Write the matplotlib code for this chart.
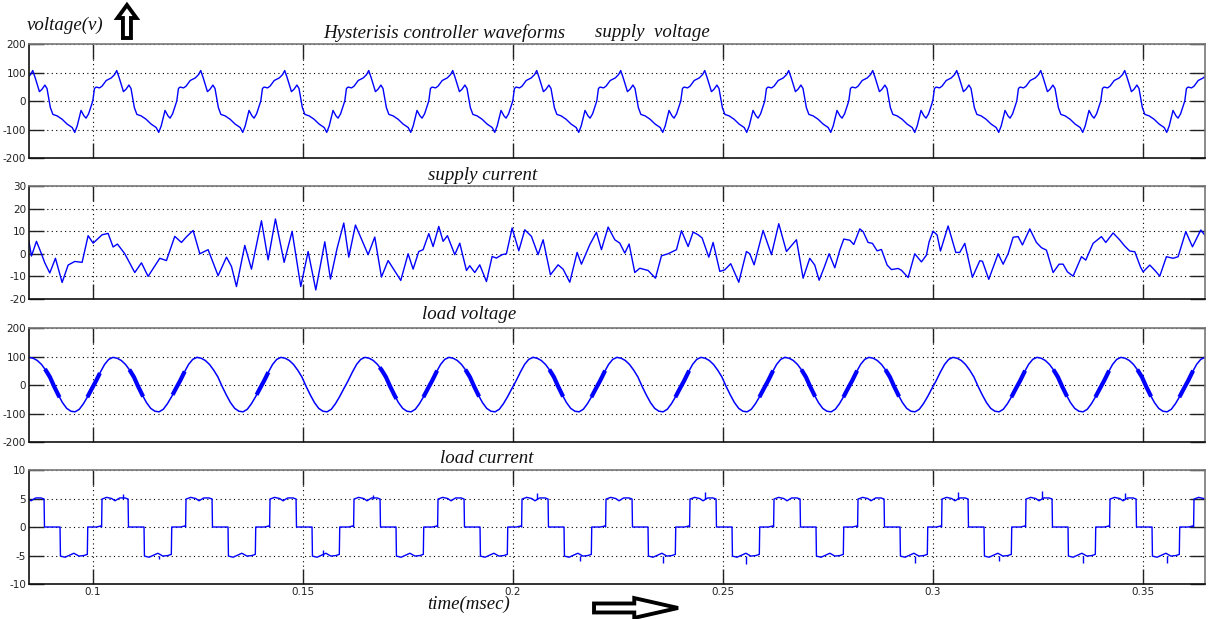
import numpy as np
import matplotlib.pyplot as plt
from matplotlib.patches import FancyArrow

# === Time axis ===
T_START = 0.0848
T_END = 0.3648
PERIOD = 0.02
XTICKS = [0.1, 0.15, 0.2, 0.25, 0.3, 0.35]
XTICK_LABELS = ["0.1", "0.15", "0.2", "0.25", "0.3", "0.35"]

# === Supply voltage: one cycle (ms after rising zero crossing) ===
sv_cycle_start = 0.08
sv_phase_ms = [0, 0.4, 0.8, 1.6, 2.2, 3.2, 4.4, 5.2, 5.7, 6.3, 7.3, 7.9, 8.6, 9.1,
               9.9, 10.5, 11.5, 12.7, 13.9, 15.1, 15.7, 16.3, 17.2, 17.9, 18.4, 19.0, 20]
sv_values = [0, 44, 49, 46, 52, 72, 81, 93, 107, 81, 33, 41, 56, 44,
             -23, -47, -52, -64, -81, -93, -110, -87, -33, -52, -60, -45, 0]

# === Supply current: turning points ===
sc_time = [0.08476, 0.08540, 0.08659, 0.08778, 0.08857, 0.08976, 0.09111, 0.09270, 0.09413,
           0.09571, 0.09746, 0.09889, 0.10008, 0.10222, 0.10365, 0.10484, 0.10587, 0.10762,
           0.11000, 0.11159, 0.11317, 0.11595, 0.11754, 0.11952, 0.12111, 0.12230, 0.12389,
           0.12548, 0.12746, 0.12984, 0.13183, 0.13302, 0.13421, 0.13619, 0.13778, 0.14016,
           0.14175, 0.14349, 0.14556, 0.14746, 0.14952, 0.15127, 0.15310, 0.15524, 0.15659,
           0.15817, 0.15976, 0.16095, 0.16254, 0.16556, 0.16714, 0.16873, 0.17032, 0.17333,
           0.17508, 0.17627,
           0.17762, 0.17865, 0.18000, 0.18103, 0.18238, 0.18341, 0.18444, 0.18619, 0.18738,
           0.18897, 0.18976, 0.19095, 0.19214, 0.19373, 0.19508, 0.19611, 0.19746, 0.19849,
           0.19984, 0.20143, 0.20286, 0.20444, 0.20603, 0.20722, 0.20897, 0.21079, 0.21198,
           0.21357, 0.21532, 0.21635, 0.21833, 0.21992, 0.22111, 0.22270, 0.22429, 0.22548,
           0.22667, 0.22770, 0.22905, 0.23024, 0.23222, 0.23397, 0.23540, 0.23698, 0.23897,
           0.24016, 0.24175, 0.24294, 0.24413, 0.24508, 0.24667, 0.24770, 0.24929, 0.25048,
           0.25190, 0.25381, 0.25563, 0.25643, 0.25746, 0.25960, 0.26159, 0.26333, 0.26516,
           0.26754, 0.26913, 0.27071,
           0.27190, 0.27294, 0.27405, 0.27532, 0.27667, 0.27786, 0.27881, 0.28024, 0.28119,
           0.28262, 0.28341, 0.28460, 0.28563, 0.28675, 0.28778, 0.28913, 0.29016, 0.29175,
           0.29254, 0.29413, 0.29571, 0.29730, 0.29849, 0.29913, 0.30008, 0.30103, 0.30183,
           0.30365, 0.30548, 0.30643, 0.30762, 0.30944, 0.31119, 0.31183, 0.31333, 0.31556,
           0.31675, 0.31794, 0.31913, 0.32032, 0.32135, 0.32310, 0.32468, 0.32587, 0.32706,
           0.32865, 0.33008, 0.33103, 0.33206, 0.33341, 0.33540, 0.33643, 0.33817, 0.34016,
           0.34119, 0.34294, 0.34452, 0.34571, 0.34690, 0.34810, 0.34944, 0.35008, 0.35167,
           0.35286, 0.35405, 0.35563, 0.35722, 0.35841, 0.36024, 0.36183, 0.36381, 0.36476]
sc_values = [6, -1, 5.5, 0, -4, -8.5, -2, -12.7, -5,
             -3.4, -3.8, 8, 4.7, 8.4, 9, 3, 4.3, 0,
             -8.3, -4, -10, -2, -3, 7.7, 5, 7.5, 10.3,
             0, 1.8, -9.7, -1.5, -5.6, -14.5, 3.7, -6.8, 14.6,
             -2.7, 15.4, -3.8, 9.9, -14.5, 1, -16, 5.3, -11.2,
             2.4, 13.6, -1.5, 12.7, -0.4, 7.4, -10.3, -3, -11.8,
             0, -6.8,
             1, 1.8, 8.9, 3.2, 12.1, 5.5, 8, -0.4, 4.7,
             -7.4, -5.3, -8.3, -4.9, -12.3, -1.2, -1.9, -0.4, 0,
             11.4, 1.3, 10.6, 7.7, -0.4, 6.2, -9.3, -4.9, -6.8,
             -12.6, 0.6, -4.6, 4, 9.5, 1.8, 11.8, 6.2, 4.7,
             0.3, 4.3, -8.3, -6.4, -7.4, -10.8, -0.9, 0, 1.8,
             10.2, 3.2, 9.6, 8.4, 7, -1.5, 5, -7.8, -7.1,
             -4.4, -12.6, 1, 0, -4.9, 10.3, -0.4, 13.3, 1,
             6.2, -10.8, -2,
             -5, -11.7, -6.5, 0, -6.2, 1.6, 6.5, 6, 4.1,
             11, 9.8, 5, 4.6, 1.3, 1.9, -5, -7, -6.5,
             -7.3, -10.5, 0, -3.6, -0.6, 5.3, 10, 8.3, 1.2,
             12.3, 0.6, 0.6, 4.6, -10.4, -3.1, -3.3, -11.3, 0,
             -4.6, 0, 7.3, 7.6, 3.9, 11, 5, 2.7, 1.6,
             -8.3, -4.6, -4.6, -8, -9.9, -1.3, -2.8, 4.6, 7.6,
             5, 9.2, 6.1, 3.4, 1.2, 0.9, -5.8, -8, -5,
             -7.3, -9.9, -1.3, -2, -1.3, 9.8, 3.1, 10.5, 8.3]

# === Load voltage: one cycle (ms after positive peak) ===
lv_cycle_start = 0.0848
lv_phase_ms = [0, 1, 2, 3, 4, 5, 6, 7, 8, 9, 10, 11, 12, 13, 14, 15, 16, 17, 18, 19, 20]
lv_values = [97, 94, 86, 72, 52, 28, -5, -35, -62, -82, -92, -94, -85, -65, -40, -12,
             15, 45, 72, 90, 97]
# stretches where the switching ripple makes the trace look thick (start, end)
lv_thick_start = [0.0886, 0.0987, 0.1087, 0.1190, 0.1390, 0.1683, 0.1787, 0.1887,
                  0.2087, 0.2187, 0.2387, 0.2587, 0.2687, 0.2787, 0.2887, 0.3187,
                  0.3287, 0.3387, 0.3487, 0.3587]
lv_thick_end = [0.0921, 0.1017, 0.1120, 0.1219, 0.1418, 0.1723, 0.1820, 0.1920,
                0.2120, 0.2220, 0.2420, 0.2620, 0.2720, 0.2820, 0.2920, 0.3220,
                0.3320, 0.3420, 0.3520, 0.3620]

# === Load current: one cycle (ms after positive step) ===
li_cycle_start = 0.0821
li_phase_ms = [0, 0.1, 1.2, 2.4, 3.2, 4.3, 5.6, 6.30, 6.40, 10.1, 10.2, 11.3, 12.5, 13.4,
               14.6, 15.8, 16.6, 16.7, 18.8, 19.9, 20]
li_values = [0, 4.9, 5.2, 5.0, 4.6, 5.1, 5.1, 4.9, 0, 0, -5.1, -5.3, -4.9, -4.6,
             -5.1, -5.0, -4.8, 0, 0, 0.2, 0]
# short spikes on the plateaus (time, tip value, base value)
li_spike_time = [0.1072, 0.1157, 0.1548, 0.1667, 0.2058, 0.2160, 0.2358, 0.2457, 0.2556,
                 0.2957, 0.3060, 0.3158, 0.3261, 0.3358, 0.3457, 0.3558]
li_spike_tip = [5.8, -5.6, -4.0, 5.7, 6.0, -6.0, -6.3, 6.2, -6.5,
                -6.3, 6.2, -6.0, 6.4, -6.3, 6.0, -6.3]
li_spike_base = [5.0, -5.0, -5.0, 5.0, 5.0, -5.0, -5.0, 5.0, -5.0,
                 -5.0, 5.0, -5.0, 5.0, -5.0, 5.0, -5.0]

LINE_COLOR = "#0000ff"


def tile_cycle(phase_ms, values, start):
    phase = np.array(phase_ms) / 1000.0
    k0 = int(np.floor((T_START - start) / PERIOD)) - 1
    k1 = int(np.ceil((T_END - start) / PERIOD)) + 1
    ts = [start + k * PERIOD + phase for k in range(k0, k1)]
    vs = [np.array(values, dtype=float) for _ in range(k0, k1)]
    return np.concatenate(ts), np.concatenate(vs)


def style_axes(ax, ylim, yticks, show_x):
    ax.set_xlim(T_START, T_END)
    ax.set_ylim(*ylim)
    ax.set_yticks(yticks)
    ax.set_yticklabels([str(v) for v in yticks])
    ax.set_xticks(XTICKS)
    if show_x:
        ax.set_xticklabels(XTICK_LABELS)
    else:
        ax.set_xticklabels([])
    ax.grid(True, color="black", linestyle=(0, (1, 3)), linewidth=0.8)
    ax.tick_params(direction="in", length=11, width=1, top=True, right=True,
                   labelsize=7.5, pad=2, colors="#222222")
    for side in ["left", "bottom"]:
        ax.spines[side].set_color("#111111")
    for side in ["top", "right"]:
        ax.spines[side].set_color("#777777")
    for sp in ax.spines.values():
        sp.set_linewidth(1.2)


fig = plt.figure(figsize=(12.16, 6.19), dpi=100)
left, width = 0.0238, 0.9671
ax1 = fig.add_axes([left, 0.7447, width, 0.1842])
ax2 = fig.add_axes([left, 0.5170, width, 0.1826])
ax3 = fig.add_axes([left, 0.2859, width, 0.1842])
ax4 = fig.add_axes([left, 0.0565, width, 0.1842])

# supply voltage
t, v = tile_cycle(sv_phase_ms, sv_values, sv_cycle_start)
ax1.plot(t, v, color=LINE_COLOR, lw=1.0)
style_axes(ax1, (-200, 200), [-200, -100, 0, 100, 200], False)

# supply current
ax2.plot(sc_time, sc_values, color=LINE_COLOR, lw=1.0)
style_axes(ax2, (-20, 30), [-20, -10, 0, 10, 20, 30], False)

# load voltage
t, v = tile_cycle(lv_phase_ms, lv_values, lv_cycle_start)
ax3.plot(t, v, color=LINE_COLOR, lw=1.1)
for a, b in zip(lv_thick_start, lv_thick_end):
    m = (t >= a) & (t <= b)
    seg_t = np.concatenate([[a], t[m], [b]])
    seg_v = np.interp(seg_t, t, v)
    ax3.plot(seg_t, seg_v, color=LINE_COLOR, lw=3.0, solid_capstyle="butt")
style_axes(ax3, (-200, 200), [-200, -100, 0, 100, 200], False)

# load current
t, v = tile_cycle(li_phase_ms, li_values, li_cycle_start)
ax4.plot(t, v, color=LINE_COLOR, lw=1.0)
ax4.vlines(li_spike_time, li_spike_base, li_spike_tip, color=LINE_COLOR, lw=1.0)
style_axes(ax4, (-10, 10), [-10, -5, 0, 5, 10], True)

# === Annotations ===
serif = dict(family="Liberation Serif", style="italic", fontsize=13.6, color="#111111")
fig.text(0.022, 0.9596, "voltage(v)", va="center", ha="left", **serif)
fig.text(0.266, 0.9467, "Hysterisis controller waveforms", va="center", ha="left", **serif)
fig.text(0.489, 0.9467, "supply  voltage", va="center", ha="left", **serif)
fig.text(0.352, 0.7157, "supply current", va="center", ha="left", **serif)
fig.text(0.347, 0.4927, "load voltage", va="center", ha="left", **serif)
fig.text(0.362, 0.2585, "load current", va="center", ha="left", **serif)
fig.text(0.351, 0.0242, "time(msec)", va="center", ha="left", **serif)

fig.patches.append(FancyArrow(0.1044, 0.9386, 0, 0.0533, width=0.0066,
                              head_width=0.0156, head_length=0.021,
                              length_includes_head=True, transform=fig.transFigure,
                              facecolor="white", edgecolor="black", linewidth=2.8))
fig.patches.append(FancyArrow(0.4885, 0.0178, 0.0691, 0, width=0.0145,
                              head_width=0.032, head_length=0.036,
                              length_includes_head=True, transform=fig.transFigure,
                              facecolor="white", edgecolor="black", linewidth=2.8))

fig.savefig("out.png", dpi=100, facecolor="white")
